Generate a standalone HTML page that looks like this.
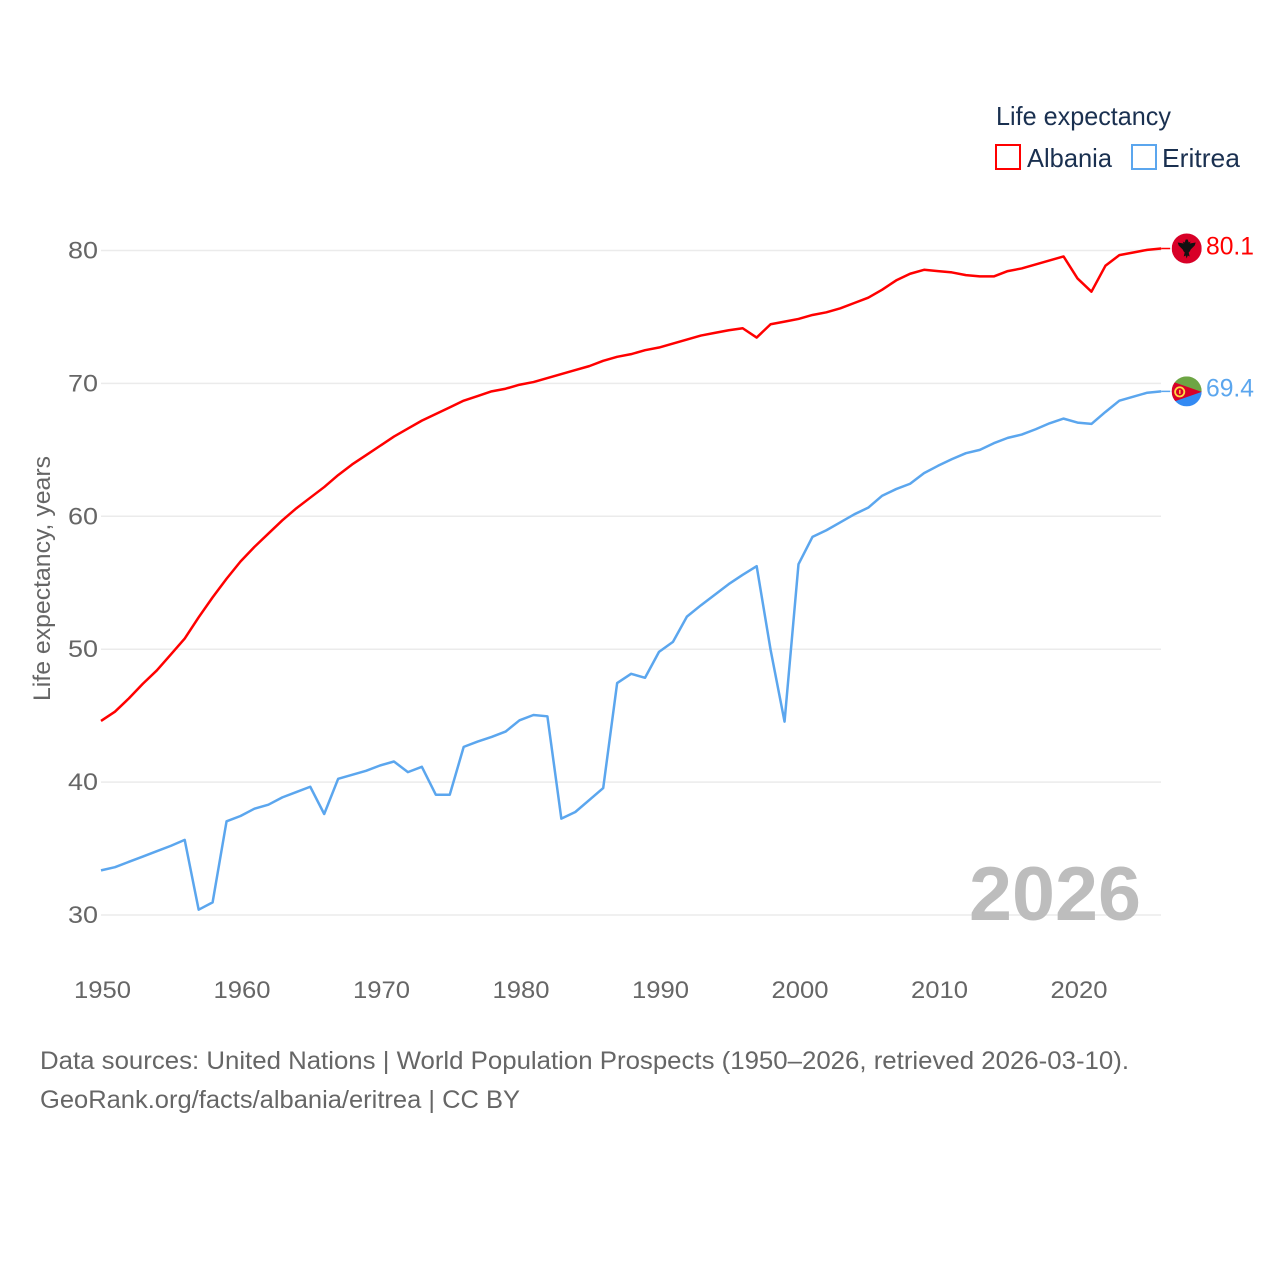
<!DOCTYPE html>
<html lang="en">
<head>
<meta charset="utf-8">
<title>Life expectancy: Albania and Eritrea</title>
<style>
html,body{margin:0;padding:0;background:#fff;width:1280px;height:1280px;overflow:hidden}
svg{display:block}
text{font-family:"Liberation Sans",sans-serif}
</style>
</head>
<body>
<svg id="chart" xmlns="http://www.w3.org/2000/svg" width="1280" height="1280" viewBox="0 0 1280 1280">
  <rect width="1280" height="1280" fill="#fff"/>
  <g id="grid"></g>
  <g id="yticks"></g>
  <g id="xticks"></g>
  <text x="969" y="920" font-size="76" font-weight="700" fill="#bdbdbd" textLength="172" lengthAdjust="spacingAndGlyphs">2026</text>
  <text transform="translate(50,701) rotate(-90)" font-size="24" fill="#666" textLength="245" lengthAdjust="spacingAndGlyphs">Life expectancy, years</text>
  <g id="series"></g>

  <g>
    <text x="996" y="125" font-size="26" fill="#1a3050" textLength="175" lengthAdjust="spacingAndGlyphs">Life expectancy</text>
    <g>
      <rect x="996" y="145" width="24" height="24" fill="#fff" stroke="#ff0000" stroke-width="2"/>
      <text x="1027" y="167" font-size="26" fill="#1a3050" textLength="85" lengthAdjust="spacingAndGlyphs">Albania</text>
    </g>
    <g>
      <rect x="1132" y="145" width="24" height="24" fill="#fff" stroke="#5ba6ee" stroke-width="2"/>
      <text x="1162" y="167" font-size="26" fill="#1a3050" textLength="78" lengthAdjust="spacingAndGlyphs">Eritrea</text>
    </g>
  </g>

  <defs>
    <clipPath id="flagClipA"><circle cx="0" cy="0" r="15"/></clipPath>
  </defs>
  <g id="flag-albania">
    <g clip-path="url(#flagClipA)">
      <rect x="-15" y="-15" width="30" height="30" fill="#d80027"/>
      <path d="M-1-9 L1-9 L2-6 L4-7 L3-5 L9-6 L8-3 L6-1 L4 1 L3 3 L2 4 L3 8 L1 7 L0 10 L-1 7 L-3 8 L-2 4 L-3 3 L-4 1 L-6-1 L-8-3 L-9-6 L-3-5 L-4-7 L-2-6 Z" fill="#111"/>
    </g>
  </g>
  <g id="flag-eritrea">
    <g clip-path="url(#flagClipA)">
      <rect x="-15" y="-15" width="30" height="15.5" fill="#6da544"/>
      <rect x="-15" y="0" width="30" height="15" fill="#338af3"/>
      <path d="M-15-10 L15 0.5 L-15 11 Z" fill="#d80027"/>
      <circle cx="-7" cy="0.5" r="4.6" fill="none" stroke="#ffda44" stroke-width="1.8"/>
      <rect x="-7.6" y="-1.5" width="1.4" height="4" fill="#ffda44"/>
    </g>
  </g>

  <text id="value-albania" x="1206" y="255" font-size="25" fill="#ff0000" textLength="48" lengthAdjust="spacingAndGlyphs"></text>
  <text id="value-eritrea" x="1206" y="397" font-size="25" fill="#5ba6ee" textLength="48" lengthAdjust="spacingAndGlyphs"></text>

  <text x="40" y="1069" font-size="25" fill="#666" textLength="1089" lengthAdjust="spacingAndGlyphs">Data sources: United Nations | World Population Prospects (1950–2026, retrieved 2026-03-10).</text>
  <text x="40" y="1108" font-size="25" fill="#666" textLength="480" lengthAdjust="spacingAndGlyphs">GeoRank.org/facts/albania/eritrea | CC BY</text>
</svg>

<script>
const startYear = 1950;
const yTickValues = [30, 40, 50, 60, 70, 80];
const xTickValues = [1950, 1960, 1970, 1980, 1990, 2000, 2010, 2020];
const albaniaValues = [44.6,45.3,46.3,47.4,48.4,49.6,50.8,52.4,53.9,55.3,56.6,57.7,58.7,59.7,60.6,61.4,62.2,63.1,63.9,64.6,65.3,66.0,66.6,67.2,67.7,68.2,68.7,69.05,69.4,69.6,69.9,70.1,70.4,70.7,71.0,71.3,71.7,72.0,72.2,72.5,72.7,73.0,73.3,73.6,73.8,74.0,74.15,73.45,74.45,74.65,74.85,75.15,75.35,75.65,76.05,76.45,77.05,77.75,78.25,78.55,78.45,78.35,78.15,78.05,78.05,78.45,78.65,78.95,79.25,79.55,77.9,76.9,78.85,79.65,79.85,80.05,80.15];
const eritreaValues = [33.36,33.6,34.0,34.4,34.8,35.2,35.65,30.4,30.95,37.05,37.45,38.0,38.3,38.85,39.25,39.65,37.6,40.25,40.55,40.85,41.25,41.55,40.75,41.15,39.05,39.05,42.65,43.05,43.4,43.8,44.65,45.05,44.95,37.25,37.75,38.65,39.55,47.45,48.15,47.85,49.8,50.55,52.45,53.3,54.1,54.9,55.6,56.25,49.95,44.55,56.4,58.45,58.95,59.55,60.15,60.65,61.55,62.05,62.45,63.25,63.8,64.3,64.75,65.0,65.5,65.9,66.15,66.55,67.0,67.35,67.05,66.95,67.85,68.7,69.0,69.3,69.4];
const albaniaEndLabel = "80.1";
const eritreaEndLabel = "69.4";

const NS = "http://www.w3.org/2000/svg";
function xScale(year) { return 101 + (year - 1950) * 13.95; }
function yScale(value) { return 915 - (value - 30) * 13.29; }
function make(tag, attrs) {
  const el = document.createElementNS(NS, tag);
  for (const k in attrs) el.setAttribute(k, attrs[k]);
  return el;
}

const gridG = document.getElementById("grid");
const yG = document.getElementById("yticks");
yTickValues.forEach(function (v) {
  const line = make("line", { x1: 101, x2: 1161, y1: yScale(v), y2: yScale(v), stroke: "#ebebeb", "stroke-width": 1.5 });
  
  
  gridG.appendChild(line);
  const t = make("text", { x: 98, y: yScale(v) + 8, "text-anchor": "end", "font-size": 24, fill: "#666", textLength: 30, lengthAdjust: "spacingAndGlyphs" });
  
  
  t.textContent = String(v);
  yG.appendChild(t);
});

const xG = document.getElementById("xticks");
xTickValues.forEach(function (v) {
  const t = make("text", { x: xScale(v) + 1.5, y: 998, "text-anchor": "middle", "font-size": 24, fill: "#666", textLength: 57, lengthAdjust: "spacingAndGlyphs" });
  
  
  t.textContent = String(v);
  xG.appendChild(t);
});

function pathFor(values) {
  return values.map(function (v, i) {
    return (i ? "L" : "M") + xScale(startYear + i).toFixed(2) + " " + yScale(v).toFixed(2);
  }).join(" ");
}
const seriesG = document.getElementById("series");

const albaniaLine = make("path", { d: pathFor(albaniaValues), fill: "none", stroke: "#ff0000", "stroke-width": 2.5, "stroke-linejoin": "round" });


seriesG.appendChild(albaniaLine);

const eritreaLine = make("path", { d: pathFor(eritreaValues), fill: "none", stroke: "#5ba6ee", "stroke-width": 2.5, "stroke-linejoin": "round" });


seriesG.appendChild(eritreaLine);

const lastYear = startYear + albaniaValues.length - 1;
const albaniaEndY = yScale(albaniaValues[albaniaValues.length - 1]);
const eritreaEndY = yScale(eritreaValues[eritreaValues.length - 1]);

const albaniaConnector = make("line", { x1: xScale(lastYear), x2: xScale(lastYear) + 9, y1: albaniaEndY, y2: albaniaEndY, stroke: "#ff0000", "stroke-width": 1.5 });


seriesG.appendChild(albaniaConnector);

const eritreaConnector = make("line", { x1: xScale(lastYear), x2: xScale(lastYear) + 9, y1: eritreaEndY, y2: eritreaEndY, stroke: "#5ba6ee", "stroke-width": 1.5 });


seriesG.appendChild(eritreaConnector);

const flagX = xScale(lastYear) + 25.5;
document.getElementById("flag-albania").setAttribute("transform", "translate(" + flagX + "," + albaniaEndY + ")");
document.getElementById("flag-eritrea").setAttribute("transform", "translate(" + flagX + "," + eritreaEndY + ")");

const albaniaLabel = document.getElementById("value-albania");
albaniaLabel.textContent = albaniaEndLabel;
albaniaLabel.setAttribute("y", albaniaEndY + 6);
const eritreaLabel = document.getElementById("value-eritrea");
eritreaLabel.textContent = eritreaEndLabel;
eritreaLabel.setAttribute("y", eritreaEndY + 5);
</script>
</body>
</html>
